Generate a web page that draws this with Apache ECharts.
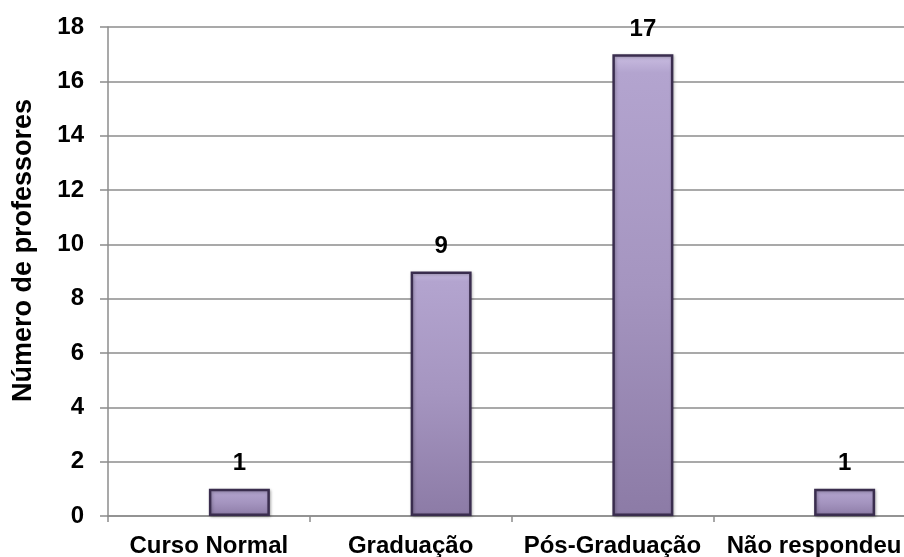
<!DOCTYPE html>
<html>
<head>
<meta charset="utf-8">
<script src="https://cdn.jsdelivr.net/npm/echarts@6/dist/echarts.min.js"></script>
<style>
  html, body { margin: 0; padding: 0; background: #ffffff; }
  #chart { width: 904px; height: 557px; }
</style>
</head>
<body>
<div id="chart"></div>
<script>
// Formação dos professores
const categories = ['Curso Normal', 'Graduação', 'Pós-Graduação', 'Não respondeu'];
const professores = [1, 9, 17, 1];
const yTicks = [0, 2, 4, 6, 8, 10, 12, 14, 16, 18];
const yTitle = 'Número de professores';

const FONT = '"Liberation Sans", Arial, sans-serif';
const chart = echarts.init(document.getElementById('chart'), null, { renderer: 'canvas' });

const barFill = new echarts.graphic.LinearGradient(0, 0, 0, 1, [
  { offset: 0, color: '#cbbfe2' },
  { offset: 0.04, color: '#b3a4cf' },
  { offset: 0.5, color: '#a595c0' },
  { offset: 1, color: '#8c7ba6' }
]);

chart.setOption({
  animation: false,
  grid: { left: 108, right: -11, top: 27, bottom: 41, containLabel: false, outerBoundsMode: 'none' },
  xAxis: {
    type: 'category',
    data: categories,
    axisLine: { show: true, lineStyle: { color: '#8c8c8c', width: 1.5 } },
    axisTick: { show: true, length: 6, inside: false, alignWithLabel: false, lineStyle: { color: '#8c8c8c', width: 1.5 } },
    axisLabel: { color: '#000', fontFamily: FONT, fontWeight: 'bold', fontSize: 24, margin: 18, interval: 0 }
  },
  yAxis: {
    type: 'value',
    min: yTicks[0],
    max: yTicks[yTicks.length - 1],
    interval: 2,
    name: yTitle,
    nameLocation: 'middle',
    nameGap: 71,
    nameRotate: 90,
    nameTextStyle: { color: '#000', fontFamily: FONT, fontWeight: 'bold', fontSize: 27, padding: [0, 0, 0, 42] },
    axisLine: { show: true, lineStyle: { color: '#8c8c8c', width: 1.5 } },
    axisTick: { show: true, length: 8, lineStyle: { color: '#8c8c8c', width: 1.5 } },
    axisLabel: { color: '#000', fontFamily: FONT, fontWeight: 'bold', fontSize: 24, margin: 24 },
    splitLine: { show: true, lineStyle: { color: '#8c8c8c', width: 1.5 } }
  },
  series: [
    {
      // empty slot on the left of each category
      type: 'bar',
      data: categories.map(() => '-'),
      barWidth: 61,
      barGap: '0%',
      silent: true
    },
    {
      type: 'bar',
      data: professores,
      barWidth: 61,
      barGap: '0%',
      itemStyle: {
        color: barFill,
        borderColor: '#3a2d4e',
        borderWidth: 2.5,
        shadowColor: 'rgba(0,0,0,0.25)',
        shadowBlur: 3,
        shadowOffsetX: 1,
        shadowOffsetY: 1
      },
      label: {
        show: true,
        position: 'top',
        distance: 13,
        color: '#000',
        fontFamily: FONT,
        fontWeight: 'bold',
        fontSize: 24
      }
    }
  ]
});
</script>
</body>
</html>
